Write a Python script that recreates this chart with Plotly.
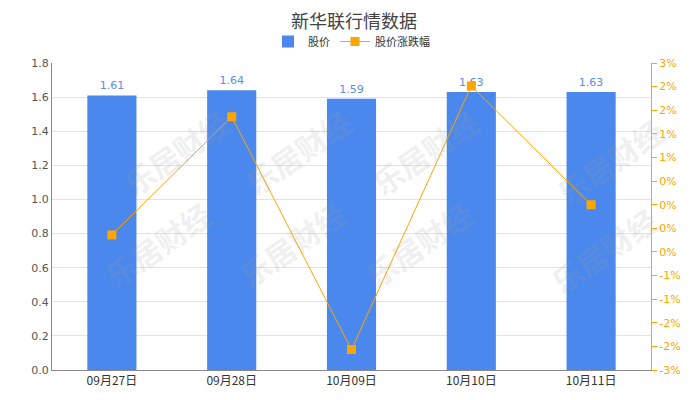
import plotly.graph_objects as go

categories = ["09月27日", "09月28日", "10月09日", "10月10日", "10月11日"]
prices = [1.61, 1.64, 1.59, 1.63, 1.63]
changes = [-0.36, 1.95, -2.60, 2.55, 0.23]
right_tick_labels = ["-3%", "-2%", "-2%", "-1%", "-1%", "0%", "0%", "0%", "0%",
                     "1%", "1%", "2%", "2%", "3%"]
watermark_text = "乐居财经"

BLUE = "#4a88ed"
ORANGE = "#ffa500"

fig = go.Figure()
fig.add_trace(go.Bar(
    x=categories, y=prices, name="股价",
    marker=dict(color=BLUE, line=dict(width=0)),
    text=[f"{v:.2f}" for v in prices], textposition="outside",
    textfont=dict(color="#5b8ee8", size=11, family="DejaVu Sans"),
    cliponaxis=False,
))
fig.add_trace(go.Scatter(
    x=categories, y=changes, name="股价涨跌幅", yaxis="y2",
    mode="lines+markers",
    line=dict(color=ORANGE, width=1),
    marker=dict(symbol="square", size=9, color=ORANGE),
))

n = len(right_tick_labels)
tickvals2 = [-3 + i * 6 / (n - 1) for i in range(n)]

# watermark annotations
wm_pos = [(0.10, 0.89), (0.41, 0.89), (0.73, 0.89), (1.04, 0.86),
          (0.07, 0.23), (0.40, 0.23), (0.72, 0.23), (1.03, 0.21)]
annotations = []
for (ax, ay) in wm_pos:
    annotations.append(dict(
        text="<b>" + watermark_text + "</b>", x=ax, y=ay, xref="paper", yref="paper",
        showarrow=False, textangle=-35,
        font=dict(size=30, color="rgba(160,160,160,0.18)", family="Noto Sans CJK SC"),
    ))

fig.update_layout(
    width=692, height=392,
    margin=dict(l=44, r=49, t=55, b=30, autoexpand=False),
    paper_bgcolor="white", plot_bgcolor="white",
    font=dict(family="Noto Sans CJK SC, DejaVu Sans", color="#555"),
    title=dict(text="新华联行情数据", x=0.5, xanchor="center", y=0.966, yanchor="middle",
               font=dict(size=18, color="#444")),
    showlegend=True,
    legend=dict(orientation="h", x=0.5, xanchor="center", y=1.07, yanchor="middle",
                font=dict(size=11, color="#333"), itemwidth=30, bgcolor="rgba(0,0,0,0)"),
    bargap=0.59,
    xaxis=dict(showgrid=False, showline=True, linecolor="#888", linewidth=1,
               ticks="", tickfont=dict(size=12, color="#333"), automargin=False),
    yaxis=dict(range=[0, 1.8], dtick=0.2, tickformat=".1f",
               showgrid=True, gridcolor="#e3e3e3", gridwidth=1,
               showline=True, linecolor="#888", linewidth=1, ticks="",
               zeroline=False, automargin=False,
               tickfont=dict(size=11, color="#555", family="DejaVu Sans")),
    yaxis2=dict(range=[-3, 3], overlaying="y", side="right",
                tickvals=tickvals2, ticktext=right_tick_labels,
                showgrid=False, zeroline=False, automargin=False,
                showline=True, linecolor=ORANGE, linewidth=1,
                ticks="outside", ticklen=5, tickcolor=ORANGE,
                tickfont=dict(size=11, color=ORANGE, family="DejaVu Sans")),
    annotations=annotations,
)

fig.write_html("out.html")
